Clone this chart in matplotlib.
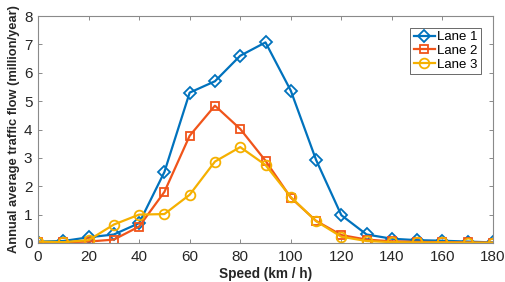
import matplotlib
matplotlib.use("Agg")
import matplotlib.pyplot as plt

plt.rcParams['font.family'] = ['Liberation Sans', 'DejaVu Sans']

speed = [0, 10, 20, 30, 40, 50, 60, 70, 80, 90, 100, 110, 120, 130, 140, 150, 160, 170, 180]
lane1 = [0.05, 0.07, 0.2, 0.3, 0.7, 2.5, 5.3, 5.7, 6.6, 7.07, 5.37, 2.93, 0.98, 0.3, 0.15, 0.1, 0.08, 0.05, 0.02]
lane2 = [0.02, 0.03, 0.05, 0.12, 0.58, 1.8, 3.78, 4.84, 4.02, 2.9, 1.6, 0.78, 0.28, 0.12, 0.06, 0.04, 0.03, 0.02, 0.01]
lane3 = [0.05, 0.03, 0.1, 0.65, 1.0, 1.02, 1.7, 2.87, 3.38, 2.75, 1.62, 0.77, 0.22, 0.07, 0.03, 0.02, 0.02, 0.01, 0.01]
labels = ['Lane 1', 'Lane 2', 'Lane 3']
xticks = list(range(0, 181, 20))
yticks = list(range(0, 9))

fig = plt.figure(figsize=(5.05, 2.82), dpi=100)
ax = fig.add_axes([38/505, 1-243/282, (493-38)/505, (243-16)/282])

c1, c2, c3 = '#0072BD', '#F0541A', '#F5B000'
ax.plot(speed, lane1, color=c1, marker='D', ms=6, mfc='none', mew=1.3, lw=1.6, label=labels[0])
ax.plot(speed, lane2, color=c2, marker='s', ms=5.5, mfc='none', mew=1.3, lw=1.6, label=labels[1])
ax.plot(speed, lane3, color=c3, marker='o', ms=7, mfc='none', mew=1.3, lw=1.6, label=labels[2])

ax.set_xlim(0, 180)
ax.set_ylim(0, 8)
ax.set_xticks(xticks)
ax.set_yticks(yticks)
ax.tick_params(direction='in', top=True, right=True, labelsize=11, length=3, width=0.7,
               color='#8a8a8a', labelcolor='#262626')
ax.tick_params(axis='x', pad=5)
ax.tick_params(axis='y', pad=4)
for s in ax.spines.values():
    s.set_linewidth(0.8)
    s.set_color('#8a8a8a')
ax.set_xlabel('Speed (km / h)', fontsize=9.8, fontweight='bold', labelpad=2, color='#262626')
ax.set_ylabel('Annual average traffic flow (million/year)', fontsize=9.3, fontweight='bold', labelpad=3, color='#262626')
leg = ax.legend(loc='upper right', fontsize=9.5, frameon=True, fancybox=False, borderpad=0.25,
                handlelength=1.6, handletextpad=0.2, labelspacing=0.1, borderaxespad=0.9)
leg.get_frame().set_edgecolor('#262626')
leg.get_frame().set_linewidth(0.6)

fig.savefig('out.png', dpi=100)
